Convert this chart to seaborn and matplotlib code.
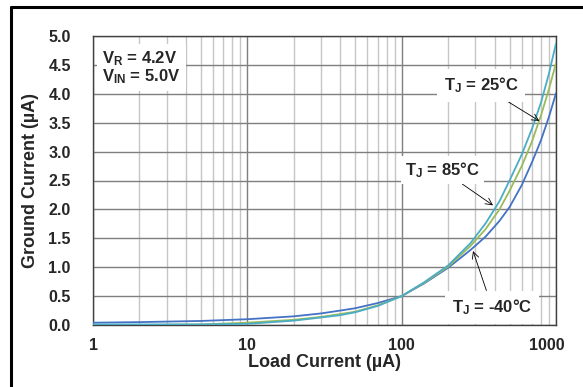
import numpy as np
import pandas as pd
import matplotlib
matplotlib.use("Agg")
import matplotlib.pyplot as plt
import matplotlib.transforms as mtransforms
from matplotlib.ticker import FixedLocator, NullFormatter
import seaborn as sns

# Load current (µA) and ground current (µA) per junction temperature
load_current = [1, 2, 5, 10, 20, 30, 40, 50, 70, 100, 140, 200, 280, 350, 430, 500, 600, 700, 800, 900, 1000]
ig_m40 = [0.04, 0.05, 0.07, 0.10, 0.15, 0.20, 0.25, 0.29, 0.38, 0.50, 0.72, 0.99, 1.30, 1.53, 1.80, 2.04, 2.42, 2.82, 3.20, 3.60, 4.01]
ig_25 = [0.00, 0.00, 0.01, 0.04, 0.09, 0.14, 0.19, 0.23, 0.34, 0.50, 0.73, 1.01, 1.37, 1.66, 2.00, 2.32, 2.75, 3.18, 3.63, 4.08, 4.53]
ig_85 = [0.01, 0.01, 0.01, 0.02, 0.075, 0.13, 0.17, 0.22, 0.33, 0.50, 0.74, 1.03, 1.42, 1.76, 2.14, 2.50, 2.95, 3.40, 3.85, 4.35, 4.87]
temps = ["-40°C", "25°C", "85°C"]
colors = ["#4472C4", "#9BBB59", "#4BACC6"]

x_ticks = [1, 10, 100, 1000]
x_tick_labels = ["1", "10", "100", "1000"]
y_ticks = [0.0, 0.5, 1.0, 1.5, 2.0, 2.5, 3.0, 3.5, 4.0, 4.5, 5.0]

df = pd.DataFrame({
    "load": load_current * 3,
    "ground": ig_m40 + ig_25 + ig_85,
    "temp": [t for t in temps for _ in load_current],
})

sns.set_theme(style="white")
plt.rcParams["font.family"] = ["Liberation Sans", "DejaVu Sans"]
plt.rcParams["font.weight"] = "bold"
plt.rcParams["mathtext.fontset"] = "custom"
plt.rcParams["mathtext.rm"] = "Liberation Sans:bold"
plt.rcParams["mathtext.bf"] = "Liberation Sans:bold"
plt.rcParams["mathtext.it"] = "Liberation Sans:bold"

fig = plt.figure(figsize=(5.83, 3.87), dpi=100)
ax = fig.add_axes([93 / 583, (387 - 325) / 387, (556 - 93) / 583, (325 - 36) / 387])

sns.lineplot(data=df, x="load", y="ground", hue="temp", hue_order=temps,
             palette=colors, linewidth=1.3, legend=False, ax=ax, zorder=3)

ax.set_xscale("log")
ax.set_xlim(1, 1000)
ax.set_ylim(0, 5.0)
ax.xaxis.set_major_locator(FixedLocator(x_ticks))
ax.set_xticklabels(x_tick_labels)
minor = [m * d for d in (1, 10, 100) for m in range(2, 10)]
ax.xaxis.set_minor_locator(FixedLocator(minor))
ax.xaxis.set_minor_formatter(NullFormatter())
ax.set_yticks(y_ticks)
ax.set_yticklabels([f"{v:.1f}" for v in y_ticks])

ax.grid(which="major", color="#7F7F7F", linewidth=1.0)
ax.grid(which="minor", axis="x", color="#C6C6C6", linewidth=1.0)
ax.tick_params(axis="both", which="both", length=0, labelsize=11.5)
ax.tick_params(axis="x", pad=9)
ax.tick_params(axis="y", pad=16)
for lab in ax.get_xticklabels() + ax.get_yticklabels():
    lab.set_fontweight("bold")
# keep the last tick label inside the canvas
last = ax.get_xticklabels()[-1]
last.set_transform(last.get_transform() + mtransforms.ScaledTranslation(-9 / 100, 0, fig.dpi_scale_trans))

for s in ax.spines.values():
    s.set_color("#404040")
    s.set_linewidth(1.0)

ax.set_xlabel("Load Current (µA)", fontsize=13, fontweight="bold", labelpad=1)
ax.set_ylabel("Ground Current (µA)", fontsize=13, fontweight="bold", labelpad=7)

box = dict(boxstyle="square,pad=0.3", facecolor="white", edgecolor="none")
ax.text(1.15, 4.45, "V$_\\mathregular{R}$ = 4.2V\nV$_\\mathregular{IN}$ = 5.0V",
        fontsize=12, fontweight="bold", va="center", ha="left", bbox=box, zorder=4,
        linespacing=1.0)

arrow = dict(arrowstyle="->", color="black", lw=0.6, shrinkA=0, shrinkB=0)
ax.annotate("T$_\\mathregular{J}$ = 25°C", xy=(780, 3.53), xytext=(327, 4.15),
            fontsize=12, fontweight="bold", ha="center", va="center",
            bbox=dict(boxstyle="square,pad=0.4", facecolor="white", edgecolor="none"),
            arrowprops=arrow, zorder=4)
ax.annotate("T$_\\mathregular{J}$ = 85°C", xy=(391, 2.07), xytext=(183, 2.68),
            fontsize=12, fontweight="bold", ha="center", va="center",
            bbox=dict(boxstyle="square,pad=0.25", facecolor="white", edgecolor="none"),
            arrowprops=arrow, zorder=4)
ax.annotate("T$_\\mathregular{J}$ = -40°C", xy=(290, 1.28), xytext=(385, 0.31),
            fontsize=12, fontweight="bold", ha="center", va="center",
            bbox=dict(boxstyle="square,pad=0.4", facecolor="white", edgecolor="none"),
            arrowprops=arrow, zorder=4)

# outer frame around the figure
fig.add_artist(plt.Line2D([11 / 583, 11 / 583], [0, 1 - 7 / 387], color="black", lw=2.2,
                          transform=fig.transFigure))
fig.add_artist(plt.Line2D([11 / 583, 1], [1 - 7 / 387, 1 - 7 / 387], color="black", lw=2.2,
                          transform=fig.transFigure))

fig.savefig("out.png", dpi=100)
